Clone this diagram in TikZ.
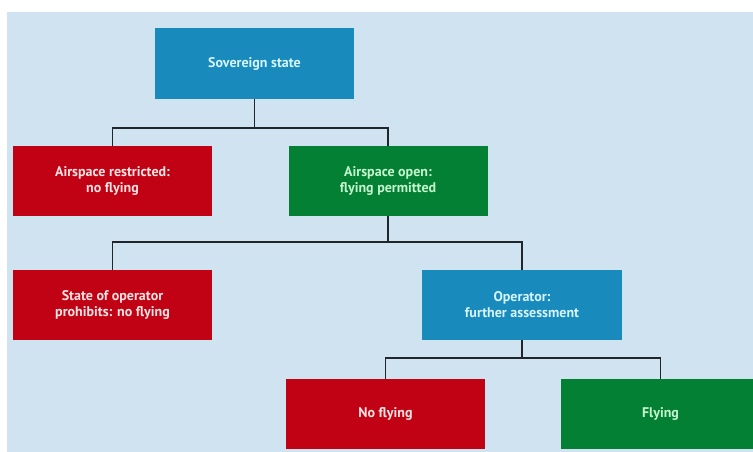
\documentclass[tikz,border=0pt]{standalone}
\usepackage{fontspec}
\setmainfont{PT Sans}
\usepackage{tikz}
\usetikzlibrary{positioning}

\definecolor{bgblue}{RGB}{207,228,240}
\definecolor{boxblue}{RGB}{24,138,187}
\definecolor{boxred}{RGB}{192,2,20}
\definecolor{boxgreen}{RGB}{4,128,52}
\definecolor{txtblue}{RGB}{214,244,255}
\definecolor{txtred}{RGB}{255,228,228}
\definecolor{txtgreen}{RGB}{196,245,206}
\definecolor{linegrey}{RGB}{34,38,42}

\begin{document}
\begin{tikzpicture}[x=1pt,y=-1pt,
    box/.style={rectangle,minimum width=199pt,minimum height=70pt,inner sep=2pt,align=center,
                font=\fontsize{14}{16}\selectfont\bfseries},
    bluebox/.style={box,fill=boxblue,text=txtblue},
    redbox/.style={box,fill=boxred,text=txtred},
    greenbox/.style={box,fill=boxgreen,text=txtgreen},
    link/.style={draw=linegrey,line width=1.4pt}]
  \useasboundingbox (0,0) rectangle (753,452);
  \clip (0,0) rectangle (753,452);
  \fill[white] (0,0) rectangle (753,452);
  \fill[bgblue] (7,12) rectangle (753,452);

  \node[bluebox,minimum height=71pt] (Sovereign) at (254.5,63.5) {Sovereign state};
  \node[redbox]                      (Restricted) at (112.5,181) {Airspace restricted:\\no flying};
  \node[greenbox]                    (Open)       at (388,181)   {Airspace open:\\flying permitted};
  \node[redbox]                      (Prohibits)  at (112.5,305) {State of operator\\prohibits: no flying};
  \node[bluebox,minimum width=200pt] (Operator)   at (522,305)   {Operator:\\further assessment};
  \node[redbox]                      (NoFlying)   at (385.5,414) {No flying};
  \node[greenbox]                    (Flying)     at (660.5,414) {Flying};

  \coordinate (split1) at (Sovereign.south |- 0,128);
  \coordinate (split2) at (Open.south |- 0,242);
  \coordinate (split3) at (Operator.south |- 0,358);

  \path[link]
    (Sovereign.south) -- (split1) -| (Restricted.north)
    (split1) -| (Open.north)
    (Open.south) -- (split2) -| (Prohibits.north)
    (split2) -| (Operator.north)
    (Operator.south) -- (split3) -| (NoFlying.north)
    (split3) -| (Flying.north);
\end{tikzpicture}
\end{document}
